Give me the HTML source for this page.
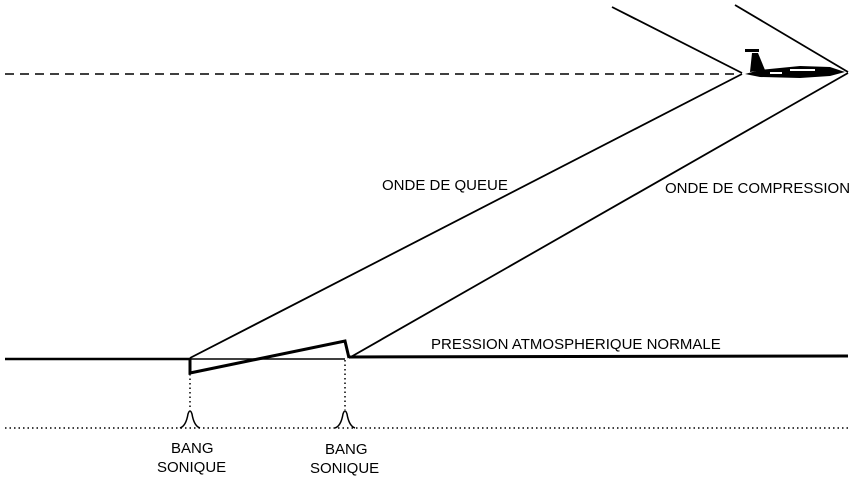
<!DOCTYPE html>
<html><head><style>
body{margin:0;background:#fff}
svg{display:block}
text{font-family:"Liberation Sans",Arial,sans-serif;font-size:15px;fill:#000}
</style></head><body>
<svg width="851" height="479" viewBox="0 0 851 479" xmlns="http://www.w3.org/2000/svg">
<g stroke="#000" fill="none">
<line x1="5" y1="74" x2="740" y2="74" stroke-width="1.5" stroke-dasharray="9,6"/>
<line x1="612" y1="7" x2="742" y2="73" stroke-width="1.8"/>
<line x1="735" y1="5" x2="848" y2="72" stroke-width="1.8"/>
<line x1="190" y1="358" x2="742" y2="74" stroke-width="1.8"/>
<line x1="349" y1="358" x2="848" y2="73" stroke-width="1.8"/>
<line x1="5" y1="359" x2="190" y2="359" stroke-width="2.5"/>
<line x1="190" y1="359" x2="345" y2="359" stroke-width="1.5"/>
<line x1="349" y1="357" x2="848" y2="356" stroke-width="3"/>
<polyline points="190,358 190,373 345,341 349,358" stroke-width="3"/>
<g stroke-width="1.5" stroke-dasharray="1.5,3">
<line x1="5" y1="428" x2="848" y2="428"/>
<line x1="190" y1="374" x2="190" y2="410"/>
<line x1="345" y1="360" x2="345" y2="410"/>
</g>
<path d="M180,428 Q186,426 188,414 Q190,408 192,414 Q194,426 200,428" stroke-width="1.5"/>
<path d="M335,428 Q341,426 343,414 Q345,408 347,414 Q349,426 355,428" stroke-width="1.5"/>
</g>
<g fill="#000">
<path d="M745,74 L760,70 L800,66 L830,67 L845,72 L830,76 L800,78 L760,77 Z"/>
<path d="M750,72 L752,53 L758,53 L765,70 Z"/>
<rect x="745" y="49" width="14" height="3"/>
</g>
<g fill="#fff"><rect x="790" y="69" width="25" height="2"/><rect x="770" y="72" width="12" height="2"/></g>
<text x="382" y="190">ONDE DE QUEUE</text>
<text x="665" y="193">ONDE DE COMPRESSION</text>
<text x="431" y="349">PRESSION ATMOSPHERIQUE NORMALE</text>
<text x="171" y="453">BANG</text>
<text x="157" y="472">SONIQUE</text>
<text x="325" y="454">BANG</text>
<text x="310" y="473">SONIQUE</text>
</svg>
</body></html>
